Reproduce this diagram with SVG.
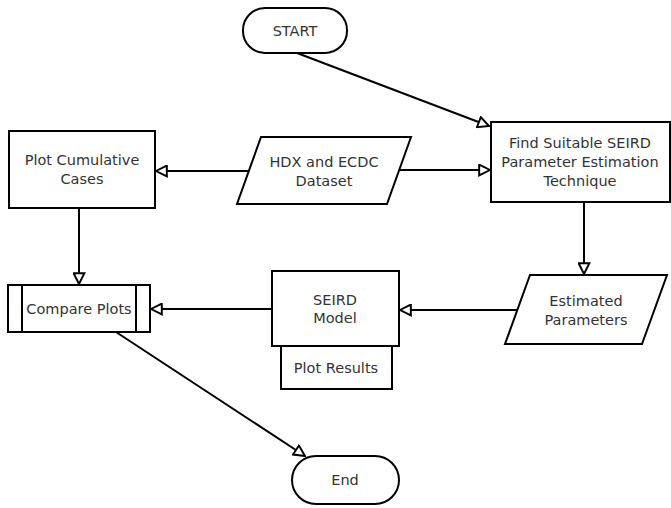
<svg xmlns="http://www.w3.org/2000/svg" width="671" height="508" viewBox="0 0 671 508">
<defs>
<style>
.n{fill:#fff;stroke:#000;stroke-width:2}
.t{font-family:"DejaVu Sans","Liberation Sans",sans-serif;font-size:14.5px;fill:#333;text-anchor:middle}
.e{fill:none;stroke:#000;stroke-width:2}
</style>
<marker id="ah" viewBox="0 0 12 12" refX="11" refY="6" markerWidth="13" markerHeight="13" markerUnits="userSpaceOnUse" orient="auto">
<path d="M1,1 L11,6 L1,11 Z" fill="#fff" stroke="#000" stroke-width="1.8"/>
</marker>
</defs>
<rect width="671" height="508" fill="#fff"/>
<g id="connectors">
<line class="e" x1="297" y1="53" x2="489" y2="126" marker-end="url(#ah)"/>
<line class="e" x1="249" y1="171" x2="156" y2="171" marker-end="url(#ah)"/>
<line class="e" x1="399" y1="170" x2="490" y2="170" marker-end="url(#ah)"/>
<line class="e" x1="584" y1="202" x2="584" y2="274" marker-end="url(#ah)"/>
<line class="e" x1="517" y1="310" x2="400" y2="310" marker-end="url(#ah)"/>
<line class="e" x1="79" y1="208" x2="79" y2="284" marker-end="url(#ah)"/>
<line class="e" x1="272" y1="309" x2="151" y2="309" marker-end="url(#ah)"/>
<line class="e" x1="116" y1="332" x2="305" y2="456" marker-end="url(#ah)"/>
</g>
<g id="start">
<rect class="n" x="243" y="8" width="104" height="45" rx="22" ry="22"/>
<text class="t" x="295" y="36">START</text>
</g>
<g id="find">
<rect class="n" x="491" y="122" width="179" height="80"/>
<text class="t" x="580" y="148">Find Suitable SEIRD</text>
<text class="t" x="580" y="167">Parameter Estimation</text>
<text class="t" x="580" y="186">Technique</text>
</g>
<g id="plotcum">
<rect class="n" x="9" y="131" width="146" height="77"/>
<text class="t" x="82" y="165">Plot Cumulative</text>
<text class="t" x="82" y="184">Cases</text>
</g>
<g id="hdx">
<polygon class="n" points="261,137 411,137 387,204 237,204"/>
<text class="t" x="324" y="167">HDX and ECDC</text>
<text class="t" x="324" y="186">Dataset</text>
</g>
<g id="estimated">
<polygon class="n" points="530,275 667,275 642,344 505,344"/>
<text class="t" x="586" y="306">Estimated</text>
<text class="t" x="586" y="325">Parameters</text>
</g>
<g id="seird">
<rect class="n" x="272" y="271" width="127" height="75"/>
<text class="t" x="335" y="305">SEIRD</text>
<text class="t" x="335" y="323">Model</text>
</g>
<g id="plotresults">
<rect class="n" x="281" y="346" width="111" height="43"/>
<text class="t" x="336" y="373">Plot Results</text>
</g>
<g id="compare">
<rect class="n" x="8" y="285" width="142" height="47"/>
<line class="e" x1="22" y1="285" x2="22" y2="332"/>
<line class="e" x1="136" y1="285" x2="136" y2="332"/>
<text class="t" x="79" y="314">Compare Plots</text>
</g>
<g id="end">
<rect class="n" x="292" y="456" width="107" height="48" rx="24" ry="24"/>
<text class="t" x="345" y="485">End</text>
</g>
</svg>
